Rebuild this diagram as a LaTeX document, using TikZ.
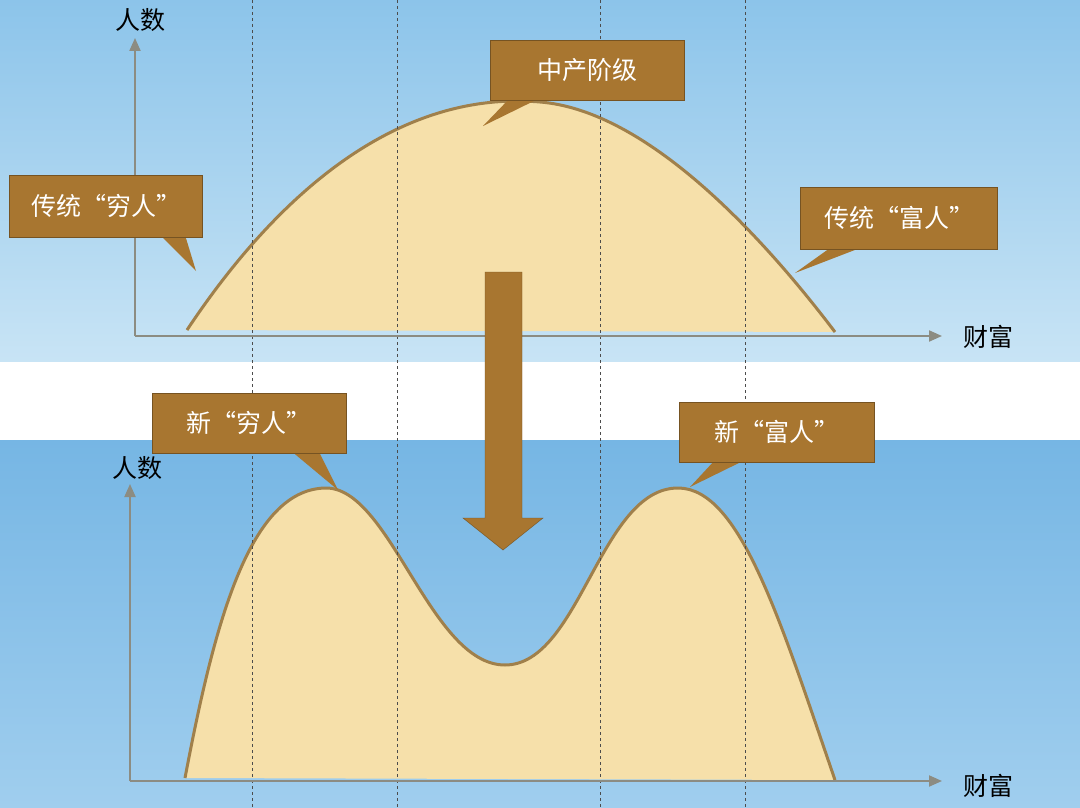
\documentclass[tikz,border=0pt]{standalone}
\usepackage{fontspec}
\setmainfont{Noto Sans CJK SC}
\usetikzlibrary{arrows.meta}
\definecolor{skyA}{RGB}{140,196,234}
\definecolor{skyB}{RGB}{200,228,245}
\definecolor{seaA}{RGB}{118,182,228}
\definecolor{seaB}{RGB}{160,206,238}
\definecolor{tan}{RGB}{246,224,170}
\definecolor{edge}{RGB}{160,128,75}
\definecolor{boxc}{RGB}{168,118,48}
\definecolor{axisc}{RGB}{140,140,130}
\tikzset{
  callout/.style={fill=boxc,draw=boxc!70!black,text=white,font=\fontsize{25}{30}\selectfont},
  axis/.style={draw=axisc,line width=2pt,-{Triangle[length=13pt,width=11pt]}},
  lab/.style={font=\fontsize{25}{30}\selectfont,text=black},
  curvefill/.style={fill=tan},
  curveline/.style={draw=edge,line width=3pt},
  guide/.style={draw=black!70,dashed,line width=0.9pt}
}
\begin{document}
\begin{tikzpicture}[x=1pt,y=-1pt]
\useasboundingbox (0,0) rectangle (1080,808);
\shade[top color=skyA,bottom color=skyB] (0,0) rectangle (1080,362);
\fill[white] (0,362) rectangle (1080,440);
\shade[top color=seaA,bottom color=seaB] (0,440) rectangle (1080,808);
% curves
\def\topc{(187,330) .. controls (280,190) and (400,90) .. (540,102) .. controls (640,110) and (750,220) .. (835,332)}
\def\botc{(185,778) .. controls (215,620) and (250,490) .. (325,488) .. controls (390,486) and (430,665) .. (505,665) .. controls (580,665) and (600,488) .. (678,488) .. controls (740,488) and (780,620) .. (835,780)}
\fill[curvefill] \topc -- cycle;
\draw[curveline] \topc;
\fill[curvefill] \botc -- cycle;
\draw[curveline] \botc;
% guides
\foreach \x in {252,397,600,745} \draw[guide] (\x,0) -- (\x,808);
% axes
\coordinate (o1) at (135,336); \coordinate (y1) at (135,38); \coordinate (x1) at (942,336);
\coordinate (o2) at (130,781); \coordinate (y2) at (130,484); \coordinate (x2) at (942,781);
\draw[axis] (o1) -- (y1); \draw[axis] (o1) -- (x1);
\draw[axis] (o2) -- (y2); \draw[axis] (o2) -- (x2);
\node[lab] (ry1) at (140,20) {人数};
\node[lab] (rx1) at (988,337) {财富};
\node[lab] (ry2) at (137,468) {人数};
\node[lab] (rx2) at (988,786) {财富};
% big arrow
\fill[boxc,draw=boxc!70!black] (485,272) -- (522,272) -- (522,518) -- (543,518) -- (503,550) -- (463,518) -- (485,518) -- cycle;
% callouts
\fill[boxc] (510,98) -- (483,126) -- (540,98) -- cycle;
\node[callout,minimum width=194pt,minimum height=60pt] (mid) at (587,70) {中产阶级};
\fill[boxc] (160,235) -- (196,271) -- (185,235) -- cycle;
\node[callout,minimum width=193pt,minimum height=62pt] (poor) at (106,206) {传统“穷人”};
\fill[boxc] (830,248) -- (795,273) -- (860,248) -- cycle;
\node[callout,minimum width=197pt,minimum height=62pt] (rich) at (899,218) {传统“富人”};
\fill[boxc] (290,450) -- (338,490) -- (318,450) -- cycle;
\node[callout,minimum width=194pt,minimum height=60pt] (np) at (249,423) {新“穷人”};
\fill[boxc] (715,460) -- (690,487) -- (745,460) -- cycle;
\node[callout,minimum width=195pt,minimum height=60pt] (nr) at (777,432) {新“富人”};
\end{tikzpicture}
\end{document}
